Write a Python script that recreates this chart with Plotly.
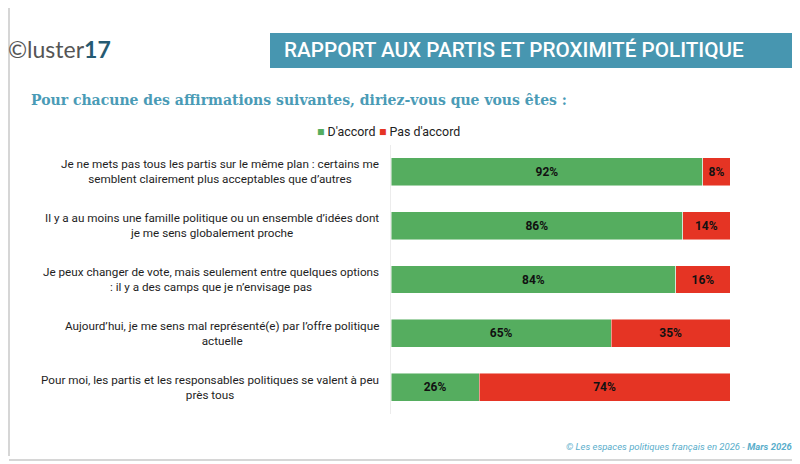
import plotly.graph_objects as go

# =========================
# DATA
# =========================
statements = [
    "Je ne mets pas tous les partis sur le même plan : certains me<br>semblent clairement plus acceptables que d’autres",
    "Il y a au moins une famille politique ou un ensemble d’idées dont<br>je me sens globalement proche",
    "Je peux changer de vote, mais seulement entre quelques options<br>: il y a des camps que je n’envisage pas",
    "Aujourd’hui, je me sens mal représenté(e) par l’offre politique<br>actuelle",
    "Pour moi, les partis et les responsables politiques se valent à peu<br>près tous",
]
agree = [92, 86, 84, 65, 26]
disagree = [8, 14, 16, 35, 74]
series_names = ["D'accord", "Pas d'accord"]

GREEN = "#55ad5f"
RED = "#e53424"
TEAL = "#4796b0"

ids = [f"s{i}" for i in range(len(statements))]


# reference pixel -> paper coords (plot area spans x 391..730, y 145..414)
def px(x):
    return (x - 391) / 339


def py(y):
    return (414 - y) / 269


fig = go.Figure()

for name, vals, col in [(series_names[0], agree, GREEN), (series_names[1], disagree, RED)]:
    fig.add_trace(go.Bar(
        x=vals,
        y=ids,
        orientation="h",
        name=name,
        marker=dict(color=col, line=dict(color="rgba(255,255,255,0.6)", width=0.8)),
        text=[f"<b>{v}%</b>" for v in vals],
        textposition="inside",
        insidetextanchor="middle",
        textfont=dict(family="Roboto", size=12, color="#111111"),
        hoverinfo="skip",
        showlegend=False,
    ))

# category labels, centred text blocks left of the bars
for sid, label in zip(ids, statements):
    fig.add_annotation(
        x=px(381), xref="paper", y=sid, yref="y",
        text=label, showarrow=False,
        xanchor="right", yanchor="middle", align="center",
        font=dict(family="Roboto", size=11.7, color="#1e1e1e"),
    )

# legend (compact, like the source)
for lx, name, col in [(315, series_names[0], GREEN), (377, series_names[1], RED)]:
    fig.add_annotation(
        x=px(lx), xref="paper", y=py(131), yref="paper",
        text=f"<span style='color:{col}'>■</span> {name}", showarrow=False,
        xanchor="left", yanchor="middle",
        font=dict(family="Roboto", size=12.4, color="#222222"),
    )

# =========================
# HEADER / FOOTER
# =========================
fig.add_shape(type="rect", xref="paper", yref="paper",
              x0=px(270), x1=px(797), y0=py(68), y1=py(33),
              fillcolor=TEAL, line=dict(width=0), layer="below")

fig.add_annotation(
    x=px(282), xref="paper", y=py(50), yref="paper",
    text="RAPPORT AUX PARTIS ET PROXIMITÉ POLITIQUE", showarrow=False,
    xanchor="left", yanchor="middle",
    font=dict(family="Roboto", size=20.7, color="white", weight=500),
)

fig.add_annotation(
    x=px(6), xref="paper", y=py(49), yref="paper",
    text="<span style='color:#555555'>©luster</span><b>17</b>", showarrow=False,
    xanchor="left", yanchor="middle",
    font=dict(family="Lato", size=23, color="#255a72"),
)

fig.add_annotation(
    x=px(29), xref="paper", y=py(100), yref="paper",
    text="<b>Pour chacune des affirmations suivantes, diriez-vous que vous êtes :</b>",
    showarrow=False, xanchor="left", yanchor="middle",
    font=dict(family="DejaVu Serif", size=14, color="#4a9bb6"),
)

fig.add_annotation(
    x=px(794), xref="paper", y=py(446), yref="paper",
    text="<i>© Les espaces politiques français en 2026 - <b>Mars 2026</b></i>",
    showarrow=False, xanchor="right", yanchor="middle",
    font=dict(family="Roboto", size=9.5, color="#5aaecb"),
)

# page frame
for x0, y0, x1, y1 in [(9, 8, 9, 456), (797, 4, 797, 456), (9, 460, 797, 460)]:
    fig.add_shape(type="line", xref="paper", yref="paper",
                  x0=px(x0), x1=px(x1), y0=py(y0), y1=py(y1),
                  line=dict(color="#c8c8c8", width=1.5))

# =========================
# LAYOUT
# =========================
fig.update_layout(
    width=800, height=464,
    margin=dict(l=383, r=78, t=137, b=58),
    barmode="stack",
    bargap=0.48,
    plot_bgcolor="white",
    paper_bgcolor="white",
    showlegend=False,
)

fig.update_xaxes(range=[0, 100], visible=False, fixedrange=True)
fig.update_yaxes(autorange="reversed", showticklabels=False, showgrid=False,
                 showline=True, linecolor="#ececec", linewidth=1, ticks="",
                 fixedrange=True)

fig.write_html("out.html")
